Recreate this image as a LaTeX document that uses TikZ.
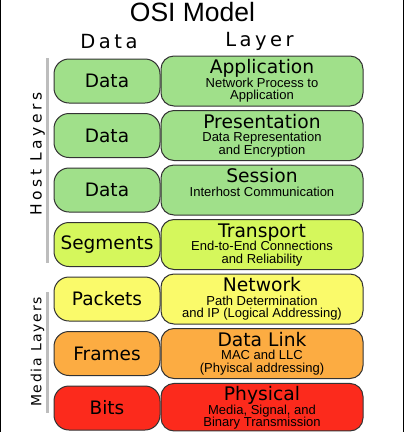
\documentclass[tikz,border=0pt]{standalone}
\usepackage{fontspec}
\setmainfont{DejaVu Sans}
\newfontfamily\osiarial{Liberation Sans}
\newfontfamily\osispaced[LetterSpace=18]{DejaVu Sans}
\newfontfamily\osihost[LetterSpace=22]{DejaVu Sans}
\newfontfamily\osimedia[LetterSpace=12]{DejaVu Sans}
\definecolor{osigreen}{HTML}{A0E08A}
\definecolor{osilime}{HTML}{D5F75C}
\definecolor{osiyellow}{HTML}{FAFA6A}
\definecolor{osiorange}{HTML}{FCAC42}
\definecolor{osired}{HTML}{FC2A1C}
\definecolor{osibar}{HTML}{BDBDBD}
\tikzset{
  rbox/.style={draw=black!80, line width=1pt, rounded corners=13pt, minimum width=202pt, minimum height=50pt, inner sep=0pt},
  lbox/.style={draw=black!80, line width=1pt, rounded corners=15pt, minimum width=106pt, minimum height=44pt, inner sep=0pt, font=\fontsize{18.5}{20}\selectfont},
  ltitle/.style={anchor=base, inner sep=0pt, font=\fontsize{18.7}{20}\selectfont},
  lsub/.style={anchor=base, inner sep=0pt, font=\osiarial\fontsize{13}{14}\selectfont},
  sidebar/.style={line width=3pt, draw=osibar},
  frameline/.style={line width=1.2pt, draw=black},
}
\newcommand\OsiRow[8][]{%
  \node[rbox, fill=#4, #1] (#2r) at (262,#3+25) {};
  \node[lbox, fill=#4] (#2l) at (107,#3+25) {#5};
  \node[ltitle] (#2t) at (262,#3+17.5) {#6};
  \node[lsub] (#2a) at (262,#3+31) {#7};
  \if\relax\detokenize{#8}\relax\else
  \node[lsub] (#2b) at (262,#3+43.5) {#8};
  \fi
}
\begin{document}
\begin{tikzpicture}[x=1pt,y=-1pt]
\useasboundingbox (0,0) rectangle (404,432);
\fill[white] (0,0) rectangle (404,432);
\coordinate (fl1) at (0.6,0); \coordinate (fl2) at (0.6,432);
\coordinate (fr1) at (403.4,0); \coordinate (fr2) at (403.4,432);
\draw[frameline] (fl1) -- (fl2);
\draw[frameline] (fr1) -- (fr2);
\node[anchor=base, inner sep=0pt, font=\osiarial\fontsize{26.5}{28}\selectfont] (title) at (192.5,21.5) {OSI Model};
\node[anchor=base, inner sep=0pt, font=\osispaced\fontsize{19.5}{20}\selectfont] (hdata) at (109,48) {Data};
\node[anchor=base, inner sep=0pt, font=\osispaced\fontsize{19.5}{20}\selectfont] (hlayer) at (259.5,46.5) {Layer};
\OsiRow{app}{56}{osigreen}{Data}{Application}{Network Process to}{Application}
\OsiRow{pre}{110.5}{osigreen}{Data}{Presentation}{Data Representation}{and Encryption}
\OsiRow{ses}{165}{osigreen}{Data}{Session}{Interhost Communication}{}
\OsiRow{tra}{219.5}{osilime}{Segments}{Transport}{End-to-End Connections}{and Reliability}
\OsiRow{net}{274}{osiyellow}{Packets}{Network}{Path Determination}{and IP (Logical Addressing)}
\OsiRow{dl}{328.5}{osiorange}{Frames}{Data Link}{MAC and LLC}{(Phyiscal addressing)}
\OsiRow[minimum height=47.5pt, yshift=0.8pt]{phy}{383}{osired}{Bits}{Physical}{Media, Signal, and}{Binary Transmission}
\coordinate (hb1) at (47,58); \coordinate (hb2) at (47,263);
\coordinate (mb1) at (47,292); \coordinate (mb2) at (47,413);
\draw[sidebar] (hb1) -- (hb2);
\draw[sidebar] (mb1) -- (mb2);
\node[rotate=90, inner sep=0pt, font=\osihost\fontsize{15.5}{16}\selectfont] (host) at (37.5,154) {Host Layers};
\node[rotate=90, inner sep=0pt, font=\osimedia\fontsize{14}{16}\selectfont] (media) at (37.5,352) {Media Layers};
\end{tikzpicture}
\end{document}
